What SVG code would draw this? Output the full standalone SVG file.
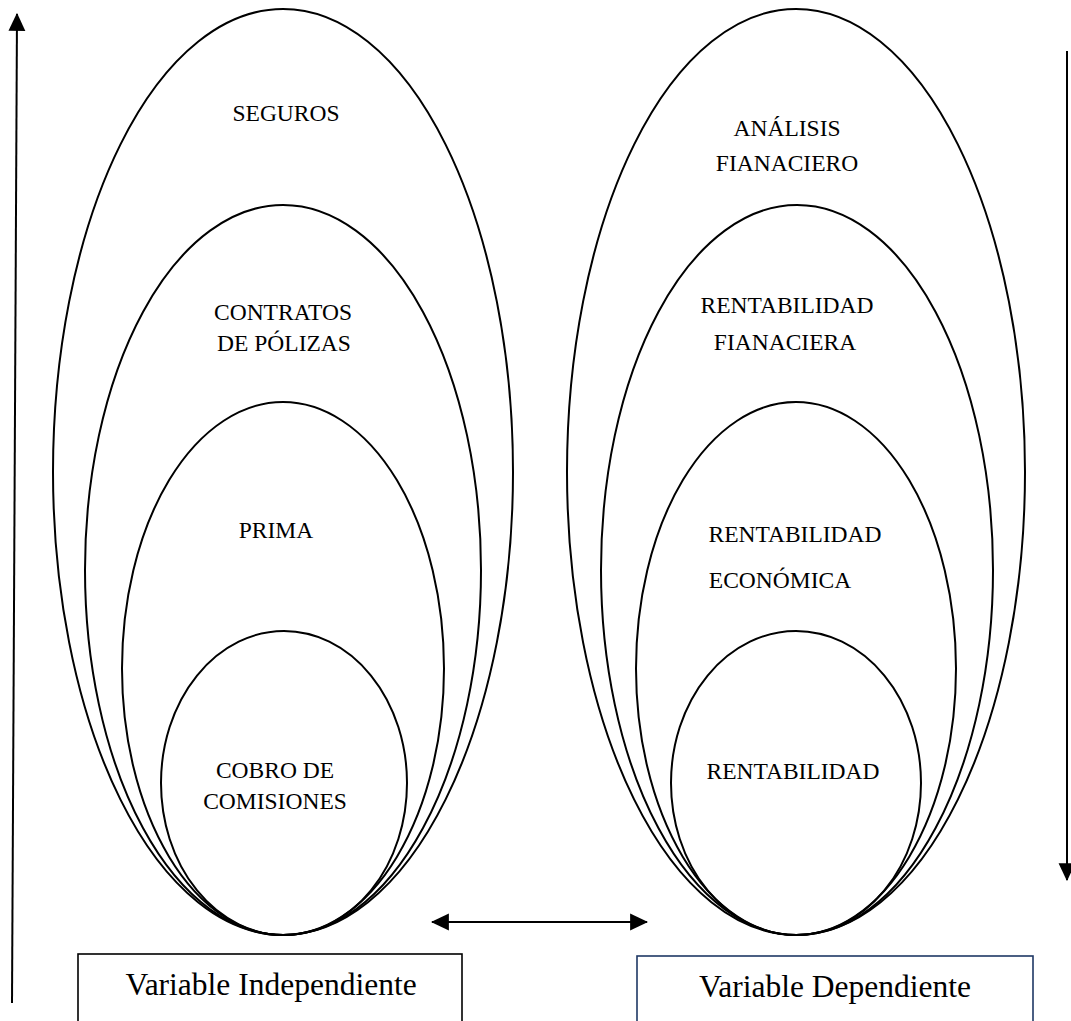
<svg xmlns="http://www.w3.org/2000/svg" width="1071" height="1021" viewBox="0 0 1071 1021">
  <style>
    .ring { fill: none; stroke: #000; stroke-width: 2; }
    .lbl { font-family: "Liberation Serif", "Times New Roman", serif; font-size: 23.5px; fill: #000; text-anchor: middle; }
    .box { fill: #fff; stroke-width: 1.6; }
    .boxlbl { font-family: "Liberation Serif", "Times New Roman", serif; font-size: 31.5px; fill: #000; text-anchor: middle; }
    .arrow { stroke: #000; stroke-width: 2; fill: none; }
  </style>
  <defs>
    <marker id="head" markerUnits="userSpaceOnUse" markerWidth="18" markerHeight="18" viewBox="0 0 16 16" refX="15" refY="8" orient="auto-start-reverse">
      <polygon points="0,0.5 16,8 0,15.5" fill="#000"/>
    </marker>
  </defs>

  <rect width="1071" height="1021" fill="#fff"/>

  <!-- Independent variable: nested ellipses -->
  <g id="seguros">
    <ellipse class="ring" cx="283" cy="472" rx="230" ry="463"/>
    <text class="lbl" x="286" y="121">SEGUROS</text>
  </g>
  <g id="contratos">
    <ellipse class="ring" cx="283" cy="570" rx="198" ry="365"/>
    <text class="lbl" x="283" y="320">CONTRATOS</text>
    <text class="lbl" x="284" y="351">DE PÓLIZAS</text>
  </g>
  <g id="prima">
    <ellipse class="ring" cx="283" cy="668.5" rx="161" ry="266.5"/>
    <text class="lbl" x="276" y="538">PRIMA</text>
  </g>
  <g id="cobro">
    <ellipse class="ring" cx="284" cy="783" rx="123" ry="152"/>
    <text class="lbl" x="275" y="778">COBRO DE</text>
    <text class="lbl" x="275" y="809">COMISIONES</text>
  </g>

  <!-- Dependent variable: nested ellipses -->
  <g id="analisis">
    <ellipse class="ring" cx="796" cy="472" rx="229" ry="463"/>
    <text class="lbl" x="787" y="136">ANÁLISIS</text>
    <text class="lbl" x="787" y="171">FIANACIERO</text>
  </g>
  <g id="rent-financiera">
    <ellipse class="ring" cx="797" cy="570" rx="196" ry="365"/>
    <text class="lbl" x="787" y="313">RENTABILIDAD</text>
    <text class="lbl" x="785" y="350">FIANACIERA</text>
  </g>
  <g id="rent-economica">
    <ellipse class="ring" cx="796" cy="668.5" rx="160" ry="266.5"/>
    <text class="lbl" x="795" y="542">RENTABILIDAD</text>
    <text class="lbl" x="780" y="588">ECONÓMICA</text>
  </g>
  <g id="rentabilidad">
    <ellipse class="ring" cx="796" cy="783" rx="125" ry="152"/>
    <text class="lbl" x="793" y="779">RENTABILIDAD</text>
  </g>

  <!-- Variable boxes -->
  <g id="var-independiente">
    <rect class="box" x="78" y="954" width="384" height="90" stroke="#000"/>
    <text class="boxlbl" x="271" y="995">Variable Independiente</text>
  </g>
  <g id="var-dependiente">
    <rect class="box" x="637" y="956" width="396" height="90" stroke="#1F3864"/>
    <text class="boxlbl" x="835" y="997">Variable Dependiente</text>
  </g>

  <!-- Connectors -->
  <g id="connectors">
    <line class="arrow" x1="12" y1="1003" x2="17" y2="14" marker-end="url(#head)"/>
    <line class="arrow" x1="1067" y1="51" x2="1067" y2="880" marker-end="url(#head)"/>
    <line class="arrow" x1="432" y1="922" x2="647" y2="922" marker-start="url(#head)" marker-end="url(#head)"/>
  </g>
</svg>
